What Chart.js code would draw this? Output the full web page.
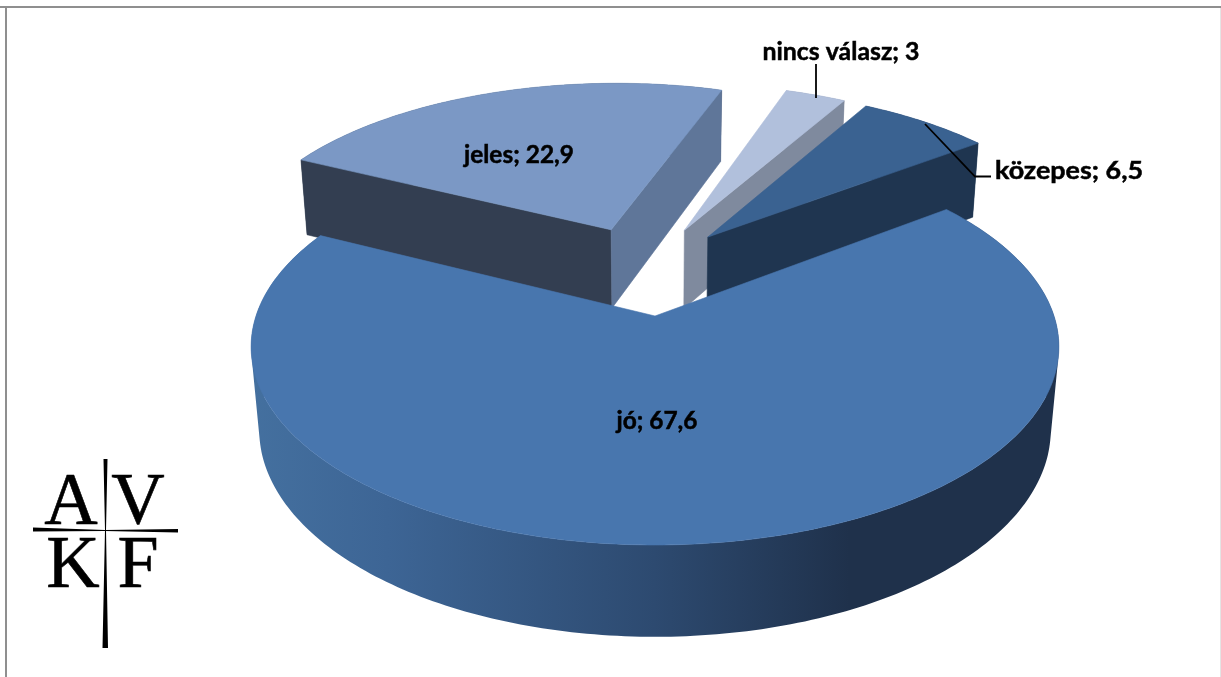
<!DOCTYPE html>
<html><head><meta charset="utf-8">
<style>html,body{margin:0;padding:0;background:#fff;overflow:hidden}canvas{display:block}</style>
<script src="https://cdn.jsdelivr.net/npm/chart.js@4"></script>
</head><body>
<canvas id="c" width="1221" height="677"></canvas>
<script>
const categories = ['jó', 'jeles', 'nincs válasz', 'közepes'];
const values = [67.6, 22.9, 3, 6.5];

const topColors = ['#4876ae', '#7b98c5', '#b1c0dc', '#3a6291'];
const startCutColors = ['#1f3550', '#333e51', '#7f8a9e', '#1f3550'];
const endCutColors = ['#1f3550', '#5f7699', '#7f8a9e', '#1f3550'];
const rimColors = [null, '#333e51', '#7f8a9e', '#1f3550'];
const drawOrder = [1, 2, 3, 0];

const view = { ox: 655, oy: 316, rx: 399, ry: 193.5, h: 84, p: 0.155, q: 0.02 };
const labelPlace = [
  { x: 657, y: 421, w: 81 },
  { x: 519, y: 155, w: 110 },
  { x: 841, y: 52, w: 157 },
  { x: 1069, y: 171, w: 148 }
];
const leaders = [
  [[816, 64], [816, 98]],
  [[925, 124], [975, 176.5], [991, 176.5]]
];

function proj(X, Y, Z) {
  const w = 1 - view.p * Y + view.q * Z;
  return [view.ox + view.rx * X / w, view.oy + (view.ry * Y + view.h * Z) / w];
}

function poly(ctx, pts, fill) {
  ctx.beginPath();
  pts.forEach((pt, i) => i ? ctx.lineTo(pt[0], pt[1]) : ctx.moveTo(pt[0], pt[1]));
  ctx.closePath();
  ctx.fillStyle = fill;
  ctx.fill();
  ctx.strokeStyle = fill;
  ctx.lineWidth = 0.6;
  ctx.stroke();
}

// The wall folds over at the silhouette: give every facet the same winding and
// fill them as one path, so there are neither holes nor seams between facets.
function band(ctx, top, bottom, fill) {
  ctx.beginPath();
  for (let k = 0; k < top.length - 1; k++) {
    let q = [top[k], top[k + 1], bottom[k + 1], bottom[k]];
    let area = 0;
    q.forEach((pt, j) => {
      const nx = q[(j + 1) % 4];
      area += pt[0] * nx[1] - nx[0] * pt[1];
    });
    if (area < 0) q = q.reverse();
    q.forEach((pt, j) => j ? ctx.lineTo(pt[0], pt[1]) : ctx.moveTo(pt[0], pt[1]));
    ctx.closePath();
  }
  ctx.fillStyle = fill;
  ctx.fill('nonzero');
}

function fitText(ctx, txt, pl) {
  const natural = ctx.measureText(txt).width;
  ctx.save();
  ctx.translate(pl.x, pl.y);
  ctx.scale(pl.w / natural, 1);
  ctx.lineWidth = 0.5;
  ctx.strokeStyle = '#000';
  ctx.strokeText(txt, 0, 0);
  ctx.fillText(txt, 0, 0);
  ctx.restore();
}

const pie3d = {
  id: 'pie3d',
  beforeDatasetDraw(chart) {
    const ctx = chart.ctx;
    const arcs = chart.getDatasetMeta(0).data;
    const midOf = a => (a.startAngle + a.endAngle) / 2;
    // the first slice's tip is the projection origin
    const e0 = arcs[0].options.offset / arcs[0].outerRadius;
    const cx = -e0 * Math.cos(midOf(arcs[0]));
    const cy = -e0 * Math.sin(midOf(arcs[0]));

    drawOrder.forEach(i => {
      const a = arcs[i];
      const e = a.options.offset / a.outerRadius;
      const m = midOf(a);
      const ax = cx + e * Math.cos(m), ay = cy + e * Math.sin(m);
      const n = Math.max(8, Math.round((a.endAngle - a.startAngle) * 60));
      const ring = z => {
        const out = [];
        for (let k = 0; k <= n; k++) {
          const t = a.startAngle + (a.endAngle - a.startAngle) * k / n;
          out.push(proj(ax + Math.cos(t), ay + Math.sin(t), z));
        }
        return out;
      };
      const top = ring(0), bottom = ring(1);
      const tip0 = proj(ax, ay, 0), tip1 = proj(ax, ay, 1);

      // outer wall
      let rimFill = rimColors[i];
      if (!rimFill) {
        const g = ctx.createLinearGradient(250, 0, 1060, 0);
        g.addColorStop(0, '#44709f');
        g.addColorStop(0.17, '#3d6595');
        g.addColorStop(0.5, '#2d4a70');
        g.addColorStop(0.74, '#1f314b');
        g.addColorStop(1, '#1f314b');
        rimFill = g;
      }
      band(ctx, top, bottom, rimFill);

      // cut walls that face the viewer
      if (Math.sin(a.startAngle - Math.PI / 2) > 0) {
        poly(ctx, [tip0, top[0], bottom[0], tip1], startCutColors[i]);
      }
      if (Math.sin(a.endAngle + Math.PI / 2) > 0) {
        poly(ctx, [tip0, top[n], bottom[n], tip1], endCutColors[i]);
      }
      // top face
      poly(ctx, [tip0].concat(top), topColors[i]);
    });
    return false;
  },
  afterDatasetsDraw(chart) {
    const ctx = chart.ctx;
    // leader lines
    ctx.strokeStyle = '#000';
    ctx.lineWidth = 1.8;
    leaders.forEach(line => {
      ctx.beginPath();
      line.forEach((pt, i) => i ? ctx.lineTo(pt[0], pt[1]) : ctx.moveTo(pt[0], pt[1]));
      ctx.stroke();
    });
    // data labels
    ctx.fillStyle = '#000';
    ctx.font = 'bold 25px Lato';
    ctx.textAlign = 'center';
    ctx.textBaseline = 'middle';
    categories.forEach((name, i) => {
      fitText(ctx, name + '; ' + String(values[i]).replace('.', ','), labelPlace[i]);
    });
    // frame
    ctx.fillStyle = '#8f8f8f';
    ctx.fillRect(0, 6, 1221, 2);
    ctx.fillRect(5, 6, 2, 671);
    ctx.fillStyle = '#e4e4e4';
    ctx.fillRect(1220, 8, 1, 669);
    // logo
    ctx.fillStyle = '#000';
    ctx.strokeStyle = '#000';
    ctx.lineWidth = 0.6;
    ctx.font = '74px "Liberation Serif"';
    ctx.textBaseline = 'alphabetic';
    [['A', 71, 524], ['V', 138, 524], ['K', 73, 587], ['F', 138, 587]].forEach(l => {
      ctx.fillText(l[0], l[1], l[2]);
      ctx.strokeText(l[0], l[1], l[2]);
    });
    ctx.beginPath();
    ctx.moveTo(33, 527.5); ctx.lineTo(105, 530); ctx.lineTo(178, 529); ctx.lineTo(178, 532.5);
    ctx.lineTo(105, 531); ctx.lineTo(33, 531.5); ctx.closePath(); ctx.fill();
    ctx.beginPath();
    ctx.moveTo(103.5, 459); ctx.lineTo(107.5, 459); ctx.lineTo(106, 530); ctx.lineTo(108, 648);
    ctx.lineTo(102.5, 648); ctx.lineTo(105, 530); ctx.closePath(); ctx.fill();
  }
};

new Chart(document.getElementById('c'), {
  type: 'pie',
  data: { labels: categories, datasets: [{ data: values, backgroundColor: topColors, offset: 75, borderWidth: 0 }] },
  options: {
    responsive: false,
    animation: false,
    rotation: 53,
    plugins: { legend: { display: false }, tooltip: { enabled: false } }
  },
  plugins: [pie3d]
});
</script>
</body></html>
